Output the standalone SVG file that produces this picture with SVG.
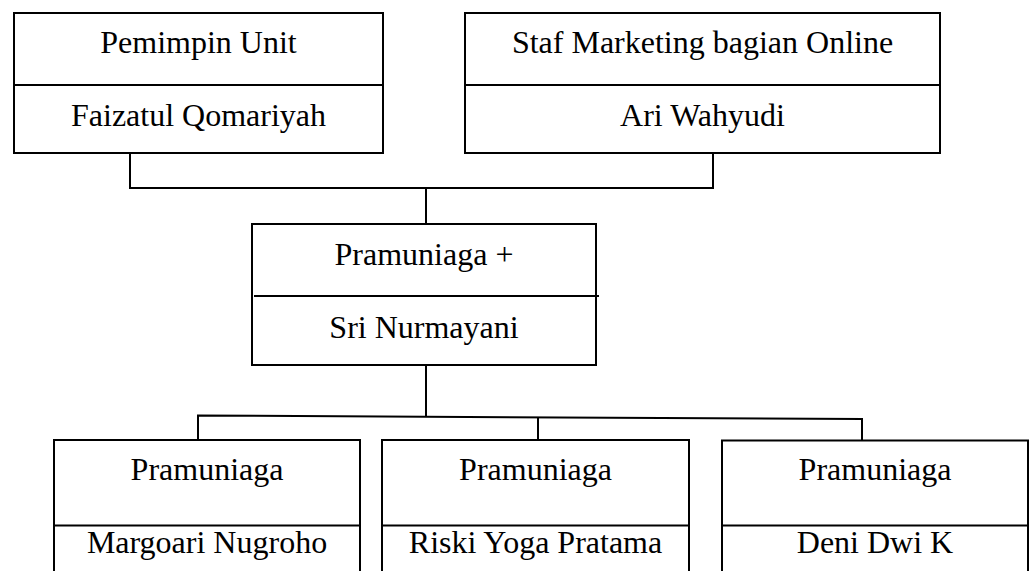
<svg xmlns="http://www.w3.org/2000/svg" width="1030" height="571" viewBox="0 0 1030 571">
<style>
.box{fill:#fff;stroke:#000;stroke-width:2}
.div{stroke:#000;stroke-width:2;fill:none}
.conn{stroke:#000;stroke-width:2;fill:none}
text{font-family:"Liberation Serif","Times New Roman",serif;font-size:32px;fill:#000;text-anchor:middle}
</style>
<rect width="1030" height="571" fill="#fff"/>
<g id="connectors">
<polyline class="conn" points="130,153 130,188 713,188 713,153"/>
<line class="conn" x1="426" y1="188" x2="426" y2="224"/>
<line class="conn" x1="426" y1="365" x2="426" y2="416.5"/>
<polyline class="conn" points="198,440 198,415.5 862,419 862,440"/>
<line class="conn" x1="538" y1="417" x2="538" y2="440"/>
</g>
<g id="node-pemimpin">
<rect class="box" x="14" y="13" width="369" height="140"/>
<line class="div" x1="14" y1="85" x2="383" y2="85"/>
<text x="198.5" y="53">Pemimpin Unit</text>
<text x="198.5" y="126">Faizatul Qomariyah</text>
</g>
<g id="node-staf">
<rect class="box" x="465" y="13" width="475" height="140"/>
<line class="div" x1="465" y1="85" x2="940" y2="85"/>
<text x="702.5" y="53">Staf Marketing bagian Online</text>
<text x="702.5" y="126">Ari Wahyudi</text>
</g>
<g id="node-sri">
<rect class="box" x="252" y="224" width="344" height="141"/>
<line class="div" x1="254" y1="296" x2="599" y2="296"/>
<text x="424" y="265">Pramuniaga +</text>
<text x="424" y="338">Sri Nurmayani</text>
</g>
<g id="node-margoari">
<rect class="box" x="54" y="440" width="306" height="150"/>
<line class="div" x1="54" y1="525.5" x2="360" y2="525.5"/>
<text x="207" y="480">Pramuniaga</text>
<text x="207" y="553">Margoari Nugroho</text>
</g>
<g id="node-riski">
<rect class="box" x="382" y="440" width="307" height="150"/>
<line class="div" x1="382" y1="525.5" x2="689" y2="525.5"/>
<text x="535.5" y="480">Pramuniaga</text>
<text x="535.5" y="553">Riski Yoga Pratama</text>
</g>
<g id="node-deni">
<rect class="box" x="722" y="440.5" width="306" height="150"/>
<line class="div" x1="722" y1="525.5" x2="1028" y2="525.5"/>
<text x="875" y="480">Pramuniaga</text>
<text x="875" y="553">Deni Dwi K</text>
</g>
</svg>
